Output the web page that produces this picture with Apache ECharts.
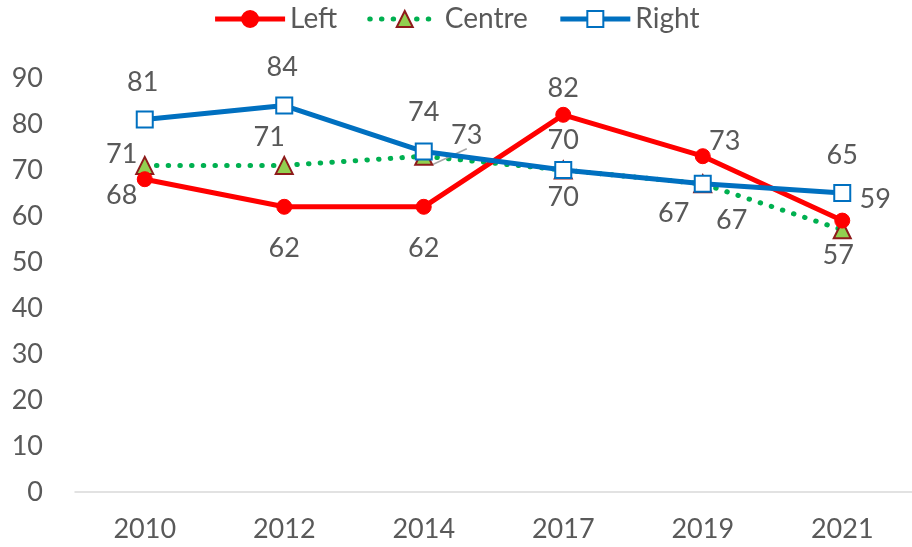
<!DOCTYPE html>
<html>
<head>
<meta charset="utf-8">
<script src="https://cdn.jsdelivr.net/npm/echarts@6/dist/echarts.min.js"></script>
<style>
  html, body { margin: 0; padding: 0; background: #fff; }
  #chart { width: 912px; height: 547px; }
</style>
</head>
<body>
<div id="chart"></div>
<script>
// Survey years and scores per political camp
const years = ['2010', '2012', '2014', '2017', '2019', '2021'];
const leftValues = [68, 62, 62, 82, 73, 59];
const centreValues = [71, 71, 73, 70, 67, 57];
const rightValues = [81, 84, 74, 70, 67, 65];
const yTicks = [0, 10, 20, 30, 40, 50, 60, 70, 80, 90];

// Where each value label sits relative to its marker (px)
const leftLabelOffsets = [[-23, 16], [0, 41], [0, 41], [0, -27], [22, -15], [33, -21]];
const centreLabelOffsets = [[-23, -11], [-15, -28], [43, -21], [0, 27], [29, 36], [-4, 25]];
const rightLabelOffsets = [[-2, -37], [-2, -38], [0, -39], [0, -30], [-29, 29], [0, -38]];

const FONT = 'Lato, "Open Sans", sans-serif';
const TEXT = '#595959';

function withLabels(values, offsets, leaderIndex) {
  return values.map((v, i) => {
    const item = {
      value: v,
      label: { offset: offsets[i] }
    };
    if (i === leaderIndex) {
      item.labelLine = { show: true, lineStyle: { color: '#a6a6a6', width: 1.5 } };
    }
    return item;
  });
}

const baseLabel = {
  show: true,
  position: 'inside',
  fontFamily: FONT,
  fontSize: 27,
  color: TEXT
};

const leftLine = { color: '#ff0000', width: 5 };
const centreLine = { color: '#00b050', width: 5, type: [0.5, 11.2], cap: 'round' };
const rightLine = { color: '#0070c0', width: 5 };

const chart = echarts.init(document.getElementById('chart'), null, { renderer: 'canvas' });

chart.setOption({
  animation: false,
  backgroundColor: '#fff',
  textStyle: { fontFamily: FONT },
  legend: {
    top: 0,
    left: 'center',
    itemWidth: 70,
    itemHeight: 20,
    itemGap: 30,
    textStyle: { fontFamily: FONT, fontSize: 28, color: TEXT },
    data: [
      { name: 'Left', lineStyle: leftLine },
      { name: 'Centre', lineStyle: centreLine },
      { name: 'Right', lineStyle: rightLine }
    ]
  },
  grid: { left: 75, right: -5, top: 78, bottom: 55 },
  xAxis: {
    type: 'category',
    data: years,
    boundaryGap: true,
    axisLine: { lineStyle: { color: '#d9d9d9', width: 1.5 } },
    axisTick: { show: false },
    axisLabel: { fontFamily: FONT, fontSize: 27, color: TEXT, margin: 24 }
  },
  yAxis: {
    type: 'value',
    min: yTicks[0],
    max: yTicks[yTicks.length - 1],
    interval: yTicks[1] - yTicks[0],
    axisLine: { show: false },
    axisTick: { show: false },
    splitLine: { show: false },
    axisLabel: { fontFamily: FONT, fontSize: 27, color: TEXT, margin: 32 }
  },
  series: [
    {
      name: 'Left',
      type: 'line',
      data: withLabels(leftValues, leftLabelOffsets, -1),
      symbol: 'circle',
      symbolSize: 15,
      itemStyle: { color: '#ff0000', borderColor: '#ff0000', borderWidth: 1 },
      lineStyle: leftLine,
      label: baseLabel,
      z: 3
    },
    {
      name: 'Centre',
      type: 'line',
      data: withLabels(centreValues, centreLabelOffsets, 2),
      symbol: 'triangle',
      symbolSize: 17,
      itemStyle: { color: '#92d050', borderColor: '#8e1b1b', borderWidth: 2 },
      lineStyle: centreLine,
      label: baseLabel,
      z: 2
    },
    {
      name: 'Right',
      type: 'line',
      data: withLabels(rightValues, rightLabelOffsets, -1),
      symbol: 'rect',
      symbolSize: 16,
      itemStyle: { color: '#ffffff', borderColor: '#0070c0', borderWidth: 2 },
      lineStyle: rightLine,
      label: baseLabel,
      z: 4
    }
  ]
});
</script>
</body>
</html>
